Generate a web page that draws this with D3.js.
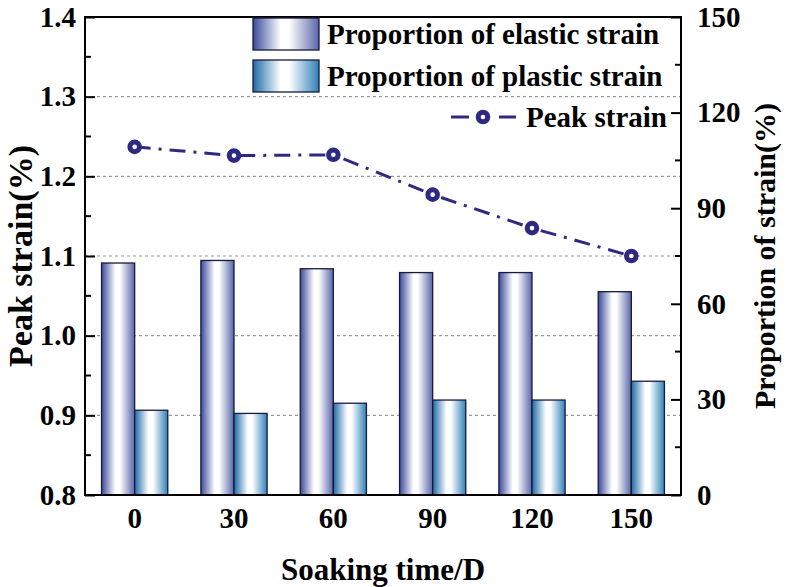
<!DOCTYPE html>
<html>
<head>
<meta charset="utf-8">
<script src="https://cdn.jsdelivr.net/npm/d3@7"></script>
<style>
  body { margin: 0; background: #fff; }
</style>
</head>
<body>
<div id="chart"></div>
<script>
// Data
const soakingDays = ["0", "30", "60", "90", "120", "150"];
const elasticShare = [72.8, 73.6, 71.0, 69.8, 69.8, 63.8];   // %, right axis
const plasticShare = [26.6, 25.6, 28.8, 29.8, 29.8, 35.7];   // %, right axis
const peakStrain = [1.237, 1.226, 1.227, 1.177, 1.135, 1.100]; // %, left axis
const leftTicks = [0.8, 0.9, 1.0, 1.1, 1.2, 1.3, 1.4];
const rightTicks = [0, 30, 60, 90, 120, 150];

const serif = "'Liberation Serif', 'Times New Roman', 'DejaVu Serif', serif";
const width = 786, height = 587;
const margin = { top: 17, right: 105, bottom: 92, left: 85 };
const innerW = width - margin.left - margin.right;
const innerH = height - margin.top - margin.bottom;

const svg = d3.select("#chart").append("svg")
  .attr("width", width)
  .attr("height", height);

// gradients for the bars
const defs = svg.append("defs");
function makeGradient(id, left, right) {
  const g = defs.append("linearGradient").attr("id", id)
    .attr("x1", 0).attr("x2", 1).attr("y1", 0).attr("y2", 0);
  g.append("stop").attr("offset", "0%").attr("stop-color", left);
  g.append("stop").attr("offset", "42%").attr("stop-color", "#ffffff");
  g.append("stop").attr("offset", "55%").attr("stop-color", "#ffffff");
  g.append("stop").attr("offset", "100%").attr("stop-color", right);
}
makeGradient("gradElastic", "#3a4a9c", "#5866a8");
makeGradient("gradPlastic", "#1d6aa8", "#2f80b8");

const g = svg.append("g").attr("transform", `translate(${margin.left},${margin.top})`);

// scales
const x = d3.scaleBand().domain(soakingDays).range([0, innerW]).padding(0);
const xSub = d3.scaleBand().domain(["elastic", "plastic"])
  .range([x.bandwidth() / 6, x.bandwidth() * 5 / 6]).padding(0);
const yLeft = d3.scaleLinear().domain([0.8, 1.4]).range([innerH, 0]);
const yRight = d3.scaleLinear().domain([0, 150]).range([innerH, 0]);

// dashed grid lines at the inner major ticks of the left axis
g.append("g").selectAll("line")
  .data(leftTicks.slice(1, -1))
  .join("line")
    .attr("x1", 0).attr("x2", innerW)
    .attr("y1", d => yLeft(d)).attr("y2", d => yLeft(d))
    .attr("stroke", "#9a9a9a")
    .attr("stroke-width", 1.2)
    .attr("stroke-dasharray", "3,3");

// bars
const barData = soakingDays.map((d, i) => ({ day: d, elastic: elasticShare[i], plastic: plasticShare[i] }));
const groups = g.append("g").selectAll("g")
  .data(barData)
  .join("g")
    .attr("transform", d => `translate(${x(d.day)},0)`);

groups.selectAll("rect")
  .data(d => [{ key: "elastic", v: d.elastic }, { key: "plastic", v: d.plastic }])
  .join("rect")
    .attr("x", d => xSub(d.key))
    .attr("y", d => yRight(d.v))
    .attr("width", xSub.bandwidth())
    .attr("height", d => innerH - yRight(d.v))
    .attr("fill", d => d.key === "elastic" ? "url(#gradElastic)" : "url(#gradPlastic)")
    .attr("stroke", "#1a1a3a")
    .attr("stroke-width", 1.3);

// peak strain line
const lineColor = "#2e2a84";
const line = d3.line()
  .x((d, i) => x(soakingDays[i]) + x.bandwidth() / 2)
  .y(d => yLeft(d));

g.append("path")
  .datum(peakStrain)
  .attr("d", line)
  .attr("fill", "none")
  .attr("stroke", lineColor)
  .attr("stroke-width", 3)
  .attr("stroke-dasharray", "16,8,3,8");

g.append("g").selectAll("circle")
  .data(peakStrain)
  .join("circle")
    .attr("cx", (d, i) => x(soakingDays[i]) + x.bandwidth() / 2)
    .attr("cy", d => yLeft(d))
    .attr("r", 4.8)
    .attr("fill", "#fff")
    .attr("stroke", lineColor)
    .attr("stroke-width", 5);

// axes
const leftAxis = d3.axisLeft(yLeft).tickValues(leftTicks).tickFormat(d3.format(".1f"))
  .tickSizeInner(-10).tickSizeOuter(0).tickPadding(9);
const leftAxisG = g.append("g").call(leftAxis);
leftAxisG.select(".domain").remove();
leftAxisG.selectAll("line").attr("stroke", "#000").attr("stroke-width", 2);

// minor ticks left
g.append("g").selectAll("line")
  .data(d3.range(0.85, 1.4, 0.1))
  .join("line")
    .attr("x1", 0).attr("x2", 6)
    .attr("y1", d => yLeft(d)).attr("y2", d => yLeft(d))
    .attr("stroke", "#000").attr("stroke-width", 2);

const rightAxis = d3.axisRight(yRight).tickValues(rightTicks)
  .tickSizeInner(-10).tickSizeOuter(0).tickPadding(16);
const rightAxisG = g.append("g").attr("transform", `translate(${innerW},0)`).call(rightAxis);
rightAxisG.select(".domain").remove();
rightAxisG.selectAll("line").attr("stroke", "#000").attr("stroke-width", 2);

// minor ticks right
g.append("g").selectAll("line")
  .data(d3.range(15, 150, 30))
  .join("line")
    .attr("x1", innerW - 6).attr("x2", innerW)
    .attr("y1", d => yRight(d)).attr("y2", d => yRight(d))
    .attr("stroke", "#000").attr("stroke-width", 2);

const bottomAxis = d3.axisBottom(x).tickSize(0).tickPadding(12);
const bottomAxisG = g.append("g").attr("transform", `translate(0,${innerH})`).call(bottomAxis);
bottomAxisG.select(".domain").remove();

[leftAxisG, rightAxisG, bottomAxisG].forEach(a => a
  .attr("font-family", null).attr("font-size", null)
  .selectAll("text")
    .style("font-family", serif)
    .style("font-weight", "bold")
    .style("font-size", "29px")
    .attr("fill", "#000"));

// frame
g.append("rect")
  .attr("width", innerW).attr("height", innerH)
  .attr("fill", "none").attr("stroke", "#000").attr("stroke-width", 2);

// axis titles
function title(sel, size) {
  return sel.style("font-family", serif).style("font-weight", "bold").style("font-size", size + "px");
}
svg.append("text")
  .attr("transform", `translate(24,${margin.top + innerH / 2}) rotate(-90)`)
  .attr("text-anchor", "middle")
  .attr("dominant-baseline", "middle")
  .call(title, 34)
  .text("Peak strain(%)");

svg.append("text")
  .attr("transform", `translate(768,${margin.top + innerH / 2}) rotate(-90)`)
  .attr("text-anchor", "middle")
  .attr("dominant-baseline", "middle")
  .call(title, 30)
  .text("Proportion of strain(%)");

svg.append("text")
  .attr("x", margin.left + innerW / 2)
  .attr("y", 580)
  .attr("text-anchor", "middle")
  .call(title, 31)
  .text("Soaking time/D");

// legend
const legend = svg.append("g");
const legendBars = [
  { label: "Proportion of elastic strain", fill: "url(#gradElastic)", y: 18 },
  { label: "Proportion of plastic strain", fill: "url(#gradPlastic)", y: 60 }
];
legend.selectAll("rect")
  .data(legendBars)
  .join("rect")
    .attr("x", 253).attr("y", d => d.y)
    .attr("width", 66).attr("height", 32)
    .attr("fill", d => d.fill)
    .attr("stroke", "#1a1a3a").attr("stroke-width", 1.3);
legend.selectAll("text.lb")
  .data(legendBars)
  .join("text")
    .attr("class", "lb")
    .attr("x", 327).attr("y", d => d.y + 26)
    .call(title, 29)
    .text(d => d.label);

legend.append("line")
  .attr("x1", 451).attr("x2", 516).attr("y1", 117).attr("y2", 117)
  .attr("stroke", lineColor).attr("stroke-width", 3)
  .attr("stroke-dasharray", "18,10,10,10,18");
legend.append("circle")
  .attr("cx", 483).attr("cy", 117).attr("r", 4.8)
  .attr("fill", "#fff").attr("stroke", lineColor).attr("stroke-width", 5);
legend.append("text")
  .attr("x", 526).attr("y", 127)
  .call(title, 29)
  .text("Peak strain");
</script>
</body>
</html>
